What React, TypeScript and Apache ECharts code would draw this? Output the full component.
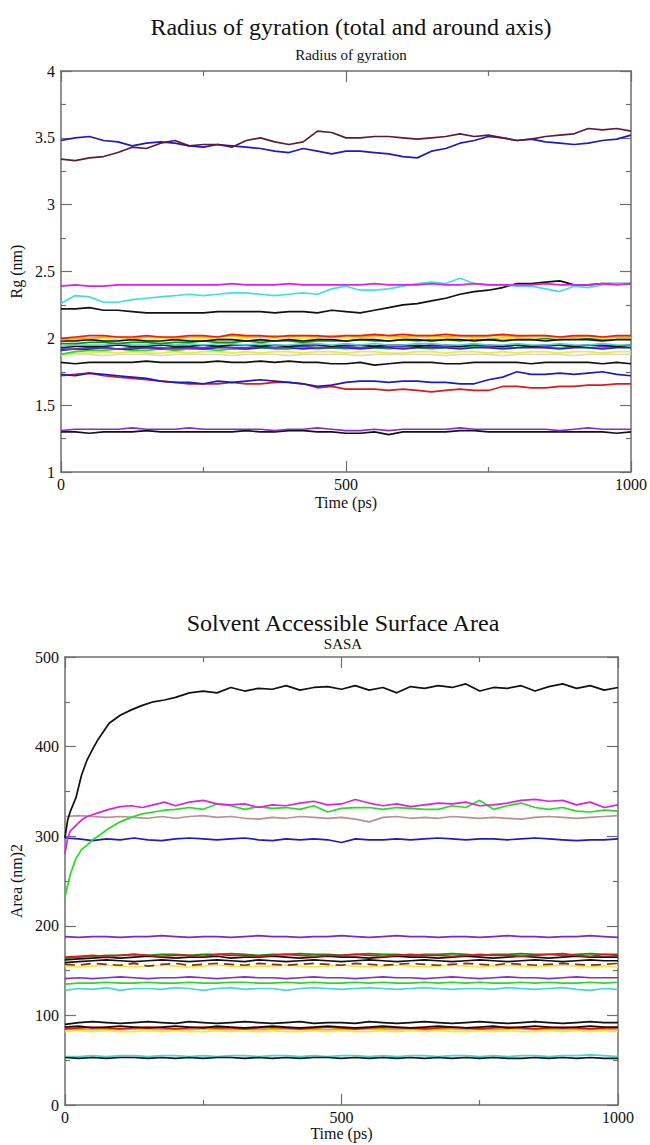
import React, { useEffect, useRef } from "react";
import * as echarts from "echarts";

// ---------- Chart 1: Radius of gyration ----------
const T1 = [0, 25, 50, 75, 100, 125, 150, 175, 200, 225, 250, 275, 300, 325, 350, 375, 400, 425, 450, 475, 500, 525, 550, 575, 600, 625, 650, 675, 700, 725, 750, 775, 800, 825, 850, 875, 900, 925, 950, 975, 1000];

const rgMaroon = [3.34, 3.33, 3.35, 3.36, 3.39, 3.43, 3.42, 3.46, 3.48, 3.44, 3.45, 3.45, 3.43, 3.48, 3.50, 3.47, 3.45, 3.47, 3.55, 3.54, 3.50, 3.50, 3.51, 3.51, 3.50, 3.49, 3.50, 3.51, 3.53, 3.51, 3.52, 3.50, 3.48, 3.49, 3.51, 3.52, 3.53, 3.57, 3.56, 3.57, 3.55];
const rgBlueTop = [3.48, 3.50, 3.51, 3.48, 3.47, 3.44, 3.46, 3.47, 3.46, 3.44, 3.43, 3.45, 3.44, 3.43, 3.42, 3.40, 3.39, 3.42, 3.40, 3.38, 3.40, 3.40, 3.39, 3.38, 3.36, 3.35, 3.40, 3.42, 3.46, 3.48, 3.51, 3.50, 3.48, 3.49, 3.47, 3.46, 3.45, 3.46, 3.48, 3.49, 3.52];
const rgMagenta = [2.39, 2.40, 2.39, 2.39, 2.40, 2.40, 2.40, 2.40, 2.40, 2.40, 2.40, 2.40, 2.41, 2.40, 2.40, 2.40, 2.41, 2.40, 2.40, 2.40, 2.40, 2.40, 2.41, 2.40, 2.40, 2.40, 2.41, 2.40, 2.40, 2.41, 2.40, 2.40, 2.40, 2.40, 2.41, 2.40, 2.40, 2.40, 2.41, 2.40, 2.41];
const rgCyan = [2.26, 2.32, 2.31, 2.27, 2.27, 2.29, 2.30, 2.31, 2.32, 2.33, 2.32, 2.33, 2.34, 2.34, 2.33, 2.32, 2.33, 2.34, 2.33, 2.37, 2.39, 2.36, 2.36, 2.37, 2.39, 2.41, 2.42, 2.41, 2.45, 2.41, 2.40, 2.40, 2.39, 2.39, 2.37, 2.35, 2.39, 2.38, 2.40, 2.41, 2.41];
const rgBlackRise = [2.22, 2.22, 2.23, 2.21, 2.21, 2.20, 2.19, 2.19, 2.19, 2.19, 2.19, 2.20, 2.20, 2.20, 2.20, 2.19, 2.20, 2.20, 2.19, 2.21, 2.20, 2.19, 2.21, 2.23, 2.25, 2.26, 2.28, 2.30, 2.33, 2.35, 2.36, 2.38, 2.41, 2.41, 2.42, 2.43, 2.40, 2.40, 2.41, 2.41, 2.41];
const rgRed2 = [2.00, 2.01, 2.02, 2.02, 2.01, 2.01, 2.02, 2.01, 2.01, 2.02, 2.02, 2.01, 2.03, 2.02, 2.02, 2.01, 2.02, 2.02, 2.02, 2.01, 2.02, 2.02, 2.03, 2.02, 2.03, 2.02, 2.02, 2.03, 2.02, 2.02, 2.02, 2.03, 2.02, 2.02, 2.02, 2.01, 2.02, 2.02, 2.01, 2.02, 2.02];
const rgOrange = [1.99, 2.00, 2.00, 2.01, 2.01, 2.00, 2.01, 2.01, 2.00, 2.01, 2.01, 2.01, 2.02, 2.01, 2.01, 2.02, 2.01, 2.02, 2.01, 2.02, 2.02, 2.01, 2.02, 2.02, 2.01, 2.02, 2.02, 2.01, 2.02, 2.01, 2.02, 2.02, 2.01, 2.02, 2.02, 2.01, 2.01, 2.02, 2.01, 2.01, 2.01];
const rgBlack2 = [1.98, 1.98, 1.99, 1.98, 1.98, 1.99, 1.98, 1.98, 1.99, 1.98, 1.98, 1.99, 1.99, 1.98, 1.99, 1.98, 1.99, 1.98, 1.99, 1.99, 1.98, 1.99, 1.99, 1.98, 1.99, 1.99, 1.98, 1.99, 1.99, 1.98, 1.99, 1.98, 1.99, 1.99, 1.98, 1.99, 1.99, 1.99, 1.98, 1.99, 1.99];
const rgYellow2 = [1.98, 1.99, 1.99, 2.00, 1.99, 2.00, 1.99, 2.00, 2.00, 1.99, 2.00, 2.00, 1.99, 2.00, 2.01, 2.00, 1.99, 2.00, 2.00, 2.01, 2.00, 2.00, 2.01, 2.00, 2.00, 2.01, 2.00, 2.00, 2.01, 2.00, 2.01, 2.00, 2.00, 2.00, 2.01, 2.00, 2.00, 2.01, 2.00, 2.00, 2.00];
const rgDkGreen = [1.96, 1.96, 1.97, 1.97, 1.96, 1.97, 1.97, 1.96, 1.97, 1.97, 1.98, 1.97, 1.97, 1.98, 1.97, 1.98, 1.98, 1.97, 1.98, 1.98, 1.98, 1.99, 1.98, 1.98, 1.99, 1.98, 1.99, 1.99, 1.98, 1.99, 1.99, 2.00, 1.99, 1.99, 2.00, 1.99, 2.00, 2.00, 1.99, 2.00, 2.00];
const rgTurq = [1.94, 1.95, 1.95, 1.95, 1.96, 1.95, 1.95, 1.96, 1.95, 1.96, 1.95, 1.96, 1.96, 1.95, 1.96, 1.95, 1.95, 1.96, 1.96, 1.95, 1.96, 1.95, 1.96, 1.95, 1.95, 1.96, 1.96, 1.95, 1.95, 1.96, 1.95, 1.95, 1.96, 1.95, 1.95, 1.96, 1.95, 1.95, 1.96, 1.95, 1.95];
const rgBlack3 = [1.93, 1.94, 1.94, 1.94, 1.95, 1.94, 1.94, 1.95, 1.94, 1.94, 1.95, 1.94, 1.95, 1.95, 1.94, 1.95, 1.94, 1.95, 1.95, 1.94, 1.95, 1.95, 1.94, 1.95, 1.95, 1.94, 1.95, 1.95, 1.94, 1.95, 1.95, 1.94, 1.95, 1.94, 1.95, 1.95, 1.94, 1.95, 1.95, 1.94, 1.95];
const rgIndigo = [1.92, 1.92, 1.93, 1.93, 1.92, 1.93, 1.93, 1.93, 1.92, 1.93, 1.93, 1.94, 1.93, 1.93, 1.94, 1.93, 1.94, 1.94, 1.93, 1.93, 1.94, 1.93, 1.94, 1.94, 1.94, 1.95, 1.94, 1.94, 1.94, 1.95, 1.94, 1.94, 1.95, 1.94, 1.94, 1.95, 1.94, 1.95, 1.94, 1.94, 1.95];
const rgBlue2 = [1.91, 1.92, 1.92, 1.93, 1.92, 1.92, 1.93, 1.92, 1.93, 1.93, 1.92, 1.93, 1.93, 1.92, 1.93, 1.93, 1.93, 1.92, 1.93, 1.93, 1.93, 1.92, 1.93, 1.93, 1.92, 1.93, 1.93, 1.93, 1.92, 1.93, 1.93, 1.92, 1.93, 1.93, 1.93, 1.92, 1.93, 1.93, 1.92, 1.93, 1.93];
const rgGreen = [1.88, 1.90, 1.91, 1.91, 1.92, 1.91, 1.91, 1.92, 1.91, 1.92, 1.92, 1.91, 1.92, 1.92, 1.93, 1.92, 1.92, 1.93, 1.92, 1.93, 1.92, 1.93, 1.93, 1.92, 1.93, 1.93, 1.92, 1.93, 1.93, 1.94, 1.93, 1.93, 1.93, 1.94, 1.93, 1.93, 1.94, 1.93, 1.93, 1.94, 1.93];
const rgYellow3 = [1.88, 1.89, 1.89, 1.90, 1.89, 1.90, 1.89, 1.89, 1.90, 1.89, 1.90, 1.90, 1.89, 1.90, 1.89, 1.90, 1.90, 1.89, 1.90, 1.90, 1.89, 1.90, 1.90, 1.89, 1.89, 1.90, 1.90, 1.89, 1.90, 1.90, 1.89, 1.90, 1.89, 1.90, 1.90, 1.89, 1.90, 1.90, 1.89, 1.90, 1.90];
const rgGrey = [1.87, 1.88, 1.88, 1.87, 1.88, 1.88, 1.88, 1.87, 1.88, 1.88, 1.88, 1.88, 1.87, 1.88, 1.88, 1.88, 1.87, 1.88, 1.88, 1.88, 1.88, 1.87, 1.88, 1.88, 1.88, 1.88, 1.88, 1.87, 1.88, 1.88, 1.88, 1.87, 1.88, 1.88, 1.88, 1.88, 1.87, 1.88, 1.88, 1.88, 1.88];
const rgBlack183 = [1.82, 1.81, 1.82, 1.82, 1.82, 1.82, 1.83, 1.82, 1.82, 1.82, 1.82, 1.83, 1.82, 1.82, 1.83, 1.82, 1.83, 1.82, 1.82, 1.81, 1.81, 1.82, 1.80, 1.81, 1.82, 1.82, 1.82, 1.81, 1.81, 1.82, 1.82, 1.82, 1.82, 1.81, 1.82, 1.82, 1.82, 1.82, 1.81, 1.82, 1.81];
const rgBlue17 = [1.73, 1.72, 1.74, 1.73, 1.72, 1.71, 1.70, 1.68, 1.67, 1.67, 1.66, 1.68, 1.67, 1.68, 1.69, 1.68, 1.67, 1.66, 1.64, 1.65, 1.67, 1.68, 1.68, 1.67, 1.68, 1.68, 1.67, 1.67, 1.66, 1.66, 1.69, 1.71, 1.75, 1.73, 1.73, 1.74, 1.73, 1.74, 1.75, 1.73, 1.72];
const rgRed17 = [1.72, 1.73, 1.74, 1.72, 1.71, 1.70, 1.69, 1.68, 1.67, 1.66, 1.66, 1.66, 1.67, 1.66, 1.66, 1.67, 1.67, 1.66, 1.63, 1.64, 1.62, 1.62, 1.62, 1.61, 1.62, 1.61, 1.60, 1.61, 1.62, 1.61, 1.61, 1.64, 1.64, 1.63, 1.63, 1.64, 1.64, 1.65, 1.65, 1.66, 1.66];
const rgViolet = [1.31, 1.32, 1.32, 1.32, 1.32, 1.33, 1.32, 1.32, 1.32, 1.33, 1.32, 1.32, 1.32, 1.32, 1.32, 1.31, 1.32, 1.32, 1.33, 1.32, 1.31, 1.31, 1.32, 1.31, 1.32, 1.32, 1.32, 1.32, 1.33, 1.32, 1.32, 1.32, 1.32, 1.32, 1.32, 1.31, 1.32, 1.33, 1.32, 1.32, 1.32];
const rgBlack13 = [1.30, 1.30, 1.29, 1.30, 1.30, 1.30, 1.31, 1.30, 1.30, 1.30, 1.30, 1.30, 1.30, 1.31, 1.30, 1.30, 1.31, 1.31, 1.30, 1.30, 1.29, 1.29, 1.30, 1.28, 1.30, 1.30, 1.30, 1.30, 1.31, 1.31, 1.30, 1.30, 1.30, 1.30, 1.30, 1.30, 1.30, 1.30, 1.30, 1.29, 1.30];

const rgTicksX = [0, 500, 1000];
const rgTicksY = [1, 1.5, 2, 2.5, 3, 3.5, 4];

// ---------- Chart 2: SASA ----------
const T2 = [0, 25, 50, 75, 100, 125, 150, 175, 200, 225, 250, 275, 300, 325, 350, 375, 400, 425, 450, 475, 500, 525, 550, 575, 600, 625, 650, 675, 700, 725, 750, 775, 800, 825, 850, 875, 900, 925, 950, 975, 1000];
const T2R = [0, 5, 10, 20, 30, 40, 50, 60, 80, 100, 120, 140, 160, 180, 200, 225, 250, 275, 300, 325, 350, 375, 400, 425, 450, 475, 500, 525, 550, 575, 600, 625, 650, 675, 700, 725, 750, 775, 800, 825, 850, 875, 900, 925, 950, 975, 1000];

const saBlackRise = [298, 318, 328, 343, 368, 385, 397, 408, 426, 435, 441, 446, 450, 452, 455, 460, 462, 460, 466, 462, 465, 464, 468, 463, 466, 467, 464, 468, 463, 466, 460, 467, 465, 468, 466, 470, 462, 466, 465, 468, 462, 467, 470, 465, 468, 463, 466];
const saMagentaRise = [280, 298, 306, 312, 318, 322, 324, 326, 330, 333, 334, 332, 335, 338, 334, 338, 340, 336, 335, 336, 332, 335, 334, 337, 339, 335, 336, 341, 337, 334, 336, 333, 335, 337, 336, 338, 334, 335, 337, 340, 341, 339, 340, 335, 338, 332, 335];
const saGreenRise = [232, 245, 258, 275, 285, 290, 296, 300, 309, 316, 321, 325, 327, 329, 330, 332, 330, 336, 334, 330, 333, 331, 332, 330, 334, 327, 331, 332, 332, 330, 332, 331, 330, 330, 334, 332, 340, 330, 334, 337, 332, 330, 332, 328, 327, 329, 328];
const saBrown = [322, 323, 322, 321, 322, 321, 320, 322, 320, 322, 323, 321, 322, 320, 319, 321, 320, 322, 321, 320, 321, 319, 316, 321, 322, 320, 321, 320, 322, 321, 320, 321, 320, 319, 321, 322, 321, 320, 321, 322, 323];
const saBlue = [298, 297, 295, 297, 296, 298, 296, 295, 297, 298, 297, 296, 297, 298, 296, 295, 297, 296, 297, 296, 293, 297, 296, 296, 297, 296, 297, 298, 297, 296, 297, 297, 296, 297, 298, 297, 296, 295, 296, 296, 297];
const saViolet = [188, 187, 188, 188, 187, 188, 188, 189, 188, 187, 188, 188, 187, 188, 189, 188, 188, 187, 188, 188, 189, 188, 187, 188, 189, 188, 188, 187, 188, 188, 187, 188, 189, 188, 188, 187, 188, 188, 189, 188, 187];
const saRed167 = [165, 166, 167, 166, 167, 168, 167, 166, 167, 167, 166, 168, 167, 167, 166, 167, 168, 167, 166, 167, 167, 168, 167, 166, 167, 168, 167, 167, 166, 167, 168, 167, 167, 166, 167, 168, 169, 167, 166, 168, 167];
const saDkGreen = [164, 165, 166, 167, 167, 168, 167, 168, 168, 167, 168, 168, 169, 168, 167, 168, 168, 169, 168, 168, 167, 168, 169, 168, 168, 167, 168, 168, 169, 168, 167, 168, 168, 169, 168, 168, 167, 168, 169, 168, 168];
const saBlack165 = [162, 163, 164, 165, 164, 165, 166, 165, 164, 165, 165, 166, 164, 165, 165, 166, 165, 164, 165, 166, 165, 165, 164, 165, 166, 165, 165, 164, 165, 166, 165, 164, 165, 166, 165, 164, 165, 166, 165, 165, 165];
const saBlack161 = [159, 160, 161, 162, 161, 160, 161, 162, 161, 160, 161, 162, 161, 160, 162, 161, 160, 161, 162, 161, 160, 161, 162, 161, 160, 161, 162, 161, 160, 161, 162, 161, 160, 161, 162, 161, 160, 161, 162, 161, 161];
const saMaroon158 = [157, 156, 158, 157, 156, 158, 155, 157, 158, 156, 157, 158, 157, 156, 158, 157, 156, 157, 158, 157, 156, 158, 157, 156, 157, 158, 157, 156, 157, 158, 157, 156, 158, 157, 156, 157, 158, 157, 156, 157, 158];
const saYellow155 = [155, 154, 155, 156, 155, 154, 155, 156, 155, 154, 155, 156, 155, 154, 155, 155, 156, 155, 154, 155, 156, 155, 154, 155, 156, 155, 154, 155, 156, 155, 154, 155, 156, 155, 154, 155, 156, 155, 154, 155, 154];
const saViolet142 = [141, 142, 141, 142, 143, 142, 141, 142, 142, 143, 142, 141, 142, 143, 142, 142, 141, 142, 143, 142, 142, 141, 142, 143, 142, 142, 141, 142, 143, 142, 141, 142, 143, 142, 142, 141, 142, 143, 142, 142, 142];
const saGreen136 = [135, 136, 136, 137, 136, 136, 137, 136, 136, 137, 136, 136, 137, 137, 136, 136, 137, 136, 137, 136, 136, 137, 136, 137, 136, 136, 137, 136, 137, 136, 137, 136, 136, 137, 136, 137, 136, 136, 137, 136, 137];
const saCyan130 = [128, 130, 129, 131, 128, 130, 130, 129, 131, 130, 128, 130, 131, 129, 130, 130, 128, 130, 131, 130, 129, 130, 131, 130, 129, 130, 131, 130, 129, 130, 130, 129, 131, 130, 129, 130, 131, 129, 128, 130, 129];
const saBlack92 = [90, 92, 93, 92, 91, 92, 93, 92, 91, 93, 92, 91, 92, 93, 92, 91, 92, 93, 91, 92, 92, 91, 93, 92, 91, 92, 93, 92, 91, 92, 93, 92, 91, 92, 93, 92, 91, 92, 93, 92, 92];
const saBlack87 = [87, 88, 86, 87, 88, 87, 86, 87, 88, 87, 86, 88, 87, 86, 87, 88, 87, 86, 87, 88, 87, 86, 87, 88, 87, 86, 87, 88, 87, 86, 87, 88, 86, 87, 88, 87, 86, 87, 88, 87, 87];
const saRed87 = [85, 86, 87, 86, 85, 86, 87, 86, 85, 86, 87, 86, 86, 85, 86, 87, 86, 85, 86, 87, 86, 85, 86, 87, 86, 86, 85, 86, 87, 86, 85, 86, 87, 86, 85, 86, 87, 86, 85, 86, 86];
const saOrange85 = [84, 85, 84, 85, 84, 85, 85, 84, 85, 84, 85, 85, 84, 85, 84, 85, 85, 84, 85, 84, 85, 84, 85, 85, 84, 85, 84, 85, 85, 84, 85, 84, 85, 85, 84, 85, 84, 85, 84, 85, 84];
const saYellow83 = [82, 83, 82, 83, 82, 82, 83, 82, 83, 82, 82, 83, 82, 83, 82, 83, 82, 82, 83, 82, 83, 82, 82, 83, 82, 83, 82, 83, 82, 82, 83, 82, 83, 82, 82, 83, 82, 83, 82, 83, 82];
const saCyan55 = [54, 54, 55, 54, 55, 55, 54, 55, 55, 54, 55, 54, 55, 55, 54, 55, 55, 54, 55, 54, 55, 55, 54, 55, 54, 55, 55, 54, 55, 55, 54, 55, 54, 55, 55, 54, 55, 55, 56, 55, 54];
const saBlack53 = [53, 52, 53, 52, 53, 53, 52, 53, 52, 53, 52, 53, 53, 52, 53, 52, 53, 52, 53, 53, 52, 53, 52, 53, 52, 53, 52, 53, 52, 53, 52, 53, 52, 52, 53, 52, 53, 52, 53, 52, 52];

const saTicksY = [0, 100, 200, 300, 400, 500];

const FONT = "'Liberation Serif', 'DejaVu Serif', serif";
const AXIS_GREY = "#6e6e6e";

function line(xs: number[], ys: number[], color: string, xi: number, yi: number, width = 1.7, type: any = "solid") {
  return {
    type: "line",
    data: xs.map((t, i) => [t, ys[i]]),
    xAxisIndex: xi,
    yAxisIndex: yi,
    showSymbol: false,
    symbol: "none",
    silent: true,
    lineStyle: { color, width, type },
    itemStyle: { color },
  };
}

const labelStyle = { fontFamily: FONT, fontSize: 16, color: "#111", margin: 6, formatter: (v: number) => String(v) };

function axis(extra: any) {
  return {
    type: "value",
    axisLine: { show: true, onZero: false, lineStyle: { color: AXIS_GREY, width: 1.5 } },
    axisTick: { show: true, inside: true, length: 11, lineStyle: { color: AXIS_GREY, width: 1.2 } },
    minorTick: { show: true, splitNumber: 2, length: 5, lineStyle: { color: AXIS_GREY, width: 1.2 } },
    splitLine: { show: false },
    minorSplitLine: { show: false },
    axisLabel: labelStyle,
    ...extra,
  };
}

export default function App() {
  const ref = useRef<HTMLDivElement>(null);
  useEffect(() => {
    document.body.style.margin = "0";
    const chart = echarts.init(ref.current!, null, { renderer: "svg" });
    const nameStyle = { fontFamily: FONT, fontSize: 16, color: "#111" };
    const titleStyle = { fontFamily: FONT, fontSize: 24, fontWeight: "normal", color: "#111" };
    const subStyle = { fontFamily: FONT, fontSize: 15, fontWeight: "normal", color: "#111" };
    const option: any = {
      animation: false,
      backgroundColor: "#ffffff",
      title: [
        { text: "Radius of gyration (total and around axis)", left: 346, top: 22, textAlign: "center", textVerticalAlign: "middle", textStyle: titleStyle },
        { text: "Radius of gyration", left: 346, top: 50, textAlign: "center", textVerticalAlign: "middle", textStyle: subStyle },
        { text: "Solvent Accessible Surface Area", left: 338, top: 618, textAlign: "center", textVerticalAlign: "middle", textStyle: titleStyle },
        { text: "SASA", left: 338, top: 639, textAlign: "center", textVerticalAlign: "middle", textStyle: subStyle },
      ],
      grid: [
        { left: 59, top: 71, width: 574, height: 401 },
        { left: 58, top: 657, width: 560, height: 448 },
      ],
      xAxis: [
        axis({ gridIndex: 0, min: rgTicksX[0], max: rgTicksX[2], interval: 500, position: "bottom", name: "Time (ps)", nameLocation: "middle", nameGap: 22, nameTextStyle: nameStyle, axisLabel: { ...labelStyle, margin: 4 } }),
        axis({ gridIndex: 0, min: 0, max: 1000, interval: 500, position: "top", axisLabel: { show: false } }),
        axis({ gridIndex: 1, min: 0, max: 1000, interval: 500, position: "bottom", name: "Time (ps)", nameLocation: "middle", nameGap: 20, nameTextStyle: nameStyle, axisLabel: { ...labelStyle, margin: 4 } }),
        axis({ gridIndex: 1, min: 0, max: 1000, interval: 500, position: "top", axisLabel: { show: false } }),
      ],
      yAxis: [
        axis({ gridIndex: 0, min: rgTicksY[0], max: rgTicksY[rgTicksY.length - 1], interval: 0.5, position: "left", name: "Rg (nm)", nameLocation: "middle", nameGap: 33, nameTextStyle: nameStyle }),
        axis({ gridIndex: 0, min: 1, max: 4, interval: 0.5, position: "right", axisLabel: { show: false } }),
        axis({ gridIndex: 1, min: saTicksY[0], max: saTicksY[saTicksY.length - 1], interval: 100, position: "left", name: "Area (nm)2", nameLocation: "middle", nameGap: 34, nameTextStyle: nameStyle }),
        axis({ gridIndex: 1, min: 0, max: 500, interval: 100, position: "right", axisLabel: { show: false } }),
      ],
      series: [
        // chart 1
        line(T1, rgGrey, "#d8d8d8", 0, 0),
        line(T1, rgYellow3, "#eeee30", 0, 0),
        line(T1, rgGreen, "#22dd22", 0, 0),
        line(T1, rgBlue2, "#2222cc", 0, 0),
        line(T1, rgIndigo, "#7a2ac0", 0, 0),
        line(T1, rgBlack3, "#111111", 0, 0),
        line(T1, rgTurq, "#40d8d8", 0, 0),
        line(T1, rgDkGreen, "#109010", 0, 0),
        line(T1, rgYellow2, "#eeee30", 0, 0),
        line(T1, rgBlack2, "#111111", 0, 0),
        line(T1, rgOrange, "#ffa500", 0, 0),
        line(T1, rgRed2, "#ee1a1a", 0, 0),
        line(T1, rgBlack183, "#111111", 0, 0),
        line(T1, rgRed17, "#e01818", 0, 0),
        line(T1, rgBlue17, "#1a1ac8", 0, 0),
        line(T1, rgBlack13, "#111111", 0, 0),
        line(T1, rgViolet, "#8a2bd0", 0, 0),
        line(T1, rgBlackRise, "#111111", 0, 0),
        line(T1, rgCyan, "#40e0e0", 0, 0),
        line(T1, rgMagenta, "#e020e0", 0, 0),
        line(T1, rgBlueTop, "#1a1ac8", 0, 0),
        line(T1, rgMaroon, "#5e1a38", 0, 0),
        // chart 2
        line(T2, saYellow83, "#eeee30", 2, 2),
        line(T2, saOrange85, "#ffa500", 2, 2),
        line(T2, saRed87, "#e01818", 2, 2),
        line(T2, saBlack87, "#111111", 2, 2),
        line(T2, saBlack92, "#111111", 2, 2),
        line(T2, saCyan55, "#40d8d8", 2, 2),
        line(T2, saBlack53, "#111111", 2, 2),
        line(T2, saCyan130, "#40d8d8", 2, 2),
        line(T2, saGreen136, "#22dd22", 2, 2),
        line(T2, saViolet142, "#8a2bd0", 2, 2),
        line(T2, saYellow155, "#eeee30", 2, 2),
        line(T2, saMaroon158, "#8b2a2a", 2, 2, 1.7, [10, 6]),
        line(T2, saBlack161, "#111111", 2, 2),
        line(T2, saDkGreen, "#109010", 2, 2),
        line(T2, saBlack165, "#111111", 2, 2),
        line(T2, saRed167, "#e01818", 2, 2),
        line(T2, saViolet, "#7a2ac0", 2, 2),
        line(T2, saBlue, "#1a1ac8", 2, 2),
        line(T2, saBrown, "#bc9090", 2, 2),
        line(T2R, saGreenRise, "#22dd22", 2, 2),
        line(T2R, saMagentaRise, "#e020e0", 2, 2),
        line(T2R, saBlackRise, "#111111", 2, 2),
      ],
    };
    chart.setOption(option);
    return () => chart.dispose();
  }, []);
  return <div ref={ref} style={{ width: 650, height: 1145 }} />;
}
